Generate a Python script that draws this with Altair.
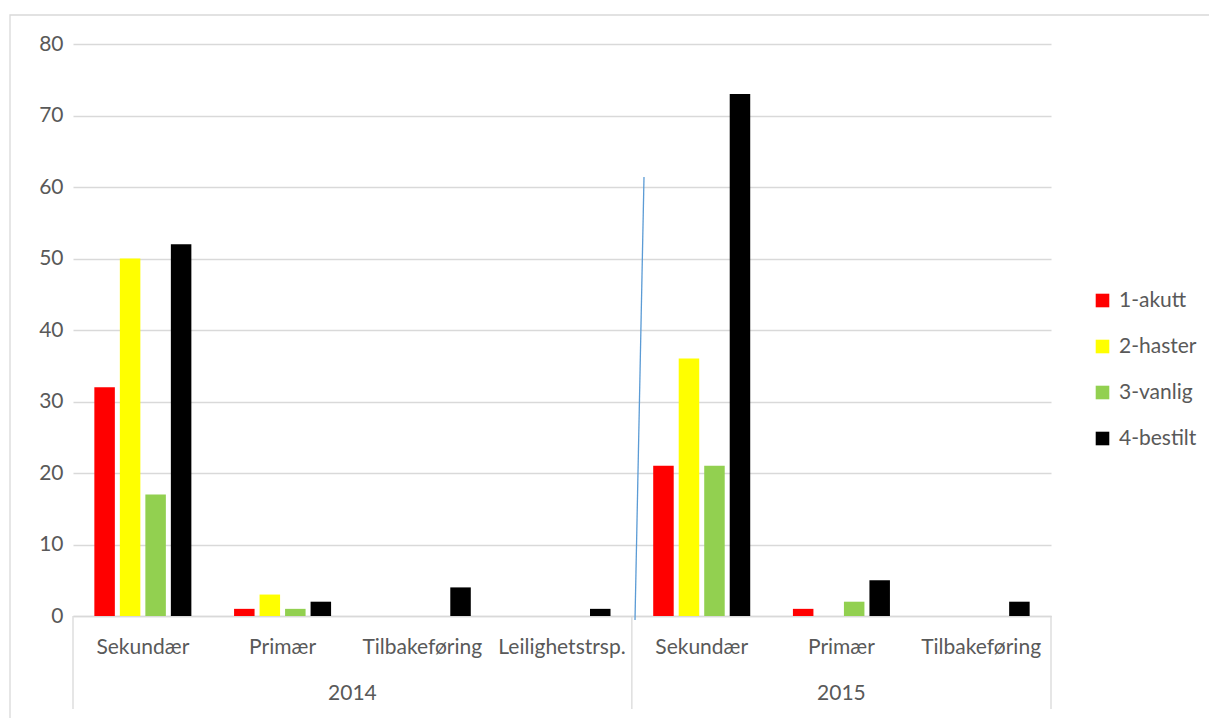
import altair as alt
import pandas as pd

# Categories: year and subcategory
years = ["2014", "2014", "2014", "2014", "2015", "2015", "2015"]
subcats = ["Sekundær", "Primær", "Tilbakeføring", "Leilighetstrsp.",
           "Sekundær", "Primær", "Tilbakeføring"]

# Series (None = no bar)
series = ["1-akutt", "2-haster", "3-vanlig", "4-bestilt"]
akutt = [32, 1, None, None, 21, 1, None]
haster = [50, 3, None, None, 36, None, None]
vanlig = [17, 1, None, None, 21, 2, None]
bestilt = [52, 2, 4, 1, 73, 5, 2]
colors = ["#FF0000", "#FFFF00", "#92D050", "#000000"]

FONT = "Lato"
TEXT = "#595959"
GRID = "#D9D9D9"
W, H = 978, 572

keys = [f"{y}|{s}" for y, s in zip(years, subcats)]
rows = []
for name, vals in zip(series, [akutt, haster, vanlig, bestilt]):
    for k, v in zip(keys, vals):
        if v is not None:
            rows.append({"key": k, "series": name, "value": v})
df = pd.DataFrame(rows)

x_scale = alt.Scale(domain=keys, paddingInner=0, paddingOuter=0)
x_axis = alt.Axis(
    title=None, labelExpr="split(datum.label, '|')[1]", ticks=False,
    domain=True, domainColor=GRID, domainWidth=1.3, grid=False,
    labelFont=FONT, labelFontSize=21, labelColor=TEXT, labelPadding=31,
    labelBaseline="middle", labelAngle=0,
)

bars = alt.Chart(df).mark_bar().encode(
    x=alt.X("key:N", scale=x_scale, axis=x_axis),
    xOffset=alt.XOffset("series:N", scale=alt.Scale(domain=series, paddingInner=0.196, paddingOuter=0.837)),
    y=alt.Y("value:Q", scale=alt.Scale(domain=[0, 80]),
            axis=alt.Axis(title=None, values=list(range(0, 81, 10)), grid=True,
                          gridColor=GRID, gridWidth=1.3, domain=False, ticks=False,
                          labelFont=FONT, labelFontSize=21, labelColor=TEXT,
                          labelPadding=10)),
    color=alt.Color("series:N", scale=alt.Scale(domain=series, range=colors),
                    legend=alt.Legend(title=None, orient="none", legendX=1019, legendY=246,
                                      symbolType="square", symbolSize=185, symbolStrokeWidth=0,
                                      labelFont=FONT, labelFontSize=21, labelColor=TEXT,
                                      rowPadding=24, labelOffset=6, padding=0)),
)

# Year labels in the second axis row
def year_label(year, anchor, band):
    return alt.Chart(pd.DataFrame({"key": [anchor], "year": [year]})).mark_text(
        font=FONT, fontSize=21, color=TEXT, baseline="middle", align="center"
    ).encode(
        x=alt.X("key:N", scale=x_scale, axis=x_axis, bandPosition=band),
        y=alt.value(650),
        text="year:N",
    )

# Vertical separators between year groups
def separator(anchor, band):
    return alt.Chart(pd.DataFrame({"key": [anchor]})).mark_rule(
        color=GRID, strokeWidth=1.3
    ).encode(
        x=alt.X("key:N", scale=x_scale, axis=x_axis, bandPosition=band),
        y=alt.value(H), y2=alt.value(665),
    )

# Hand-drawn connector line
stray = alt.Chart(pd.DataFrame({"a": [0]})).mark_rule(color="#5B9BD5", strokeWidth=1.3).encode(
    x=alt.value(571), x2=alt.value(562), y=alt.value(133), y2=alt.value(576)
)

# Outer chart frame
frame = alt.Chart(pd.DataFrame({"a": [0]})).mark_rect(
    fill=None, stroke=GRID, strokeWidth=1.3
).encode(
    x=alt.value(-63), x2=alt.value(1145), y=alt.value(-29), y2=alt.value(690)
)

chart = alt.layer(
    frame,
    bars,
    year_label("2014", "2014|Tilbakeføring", 0),
    year_label("2015", "2015|Primær", 0.5),
    separator("2014|Sekundær", 0),
    separator("2015|Sekundær", 0),
    separator("2015|Tilbakeføring", 1),
    stray,
).properties(
    width=W, height=H,
    autosize=alt.AutoSizeParams(type="none"),
    padding={"left": 73, "top": 44, "right": 158, "bottom": 102},
).configure(
    background="white",
    view=alt.ViewConfig(stroke="transparent", strokeWidth=0),
)

chart.save("out.html", embed_options={"renderer": "svg", "actions": False})
